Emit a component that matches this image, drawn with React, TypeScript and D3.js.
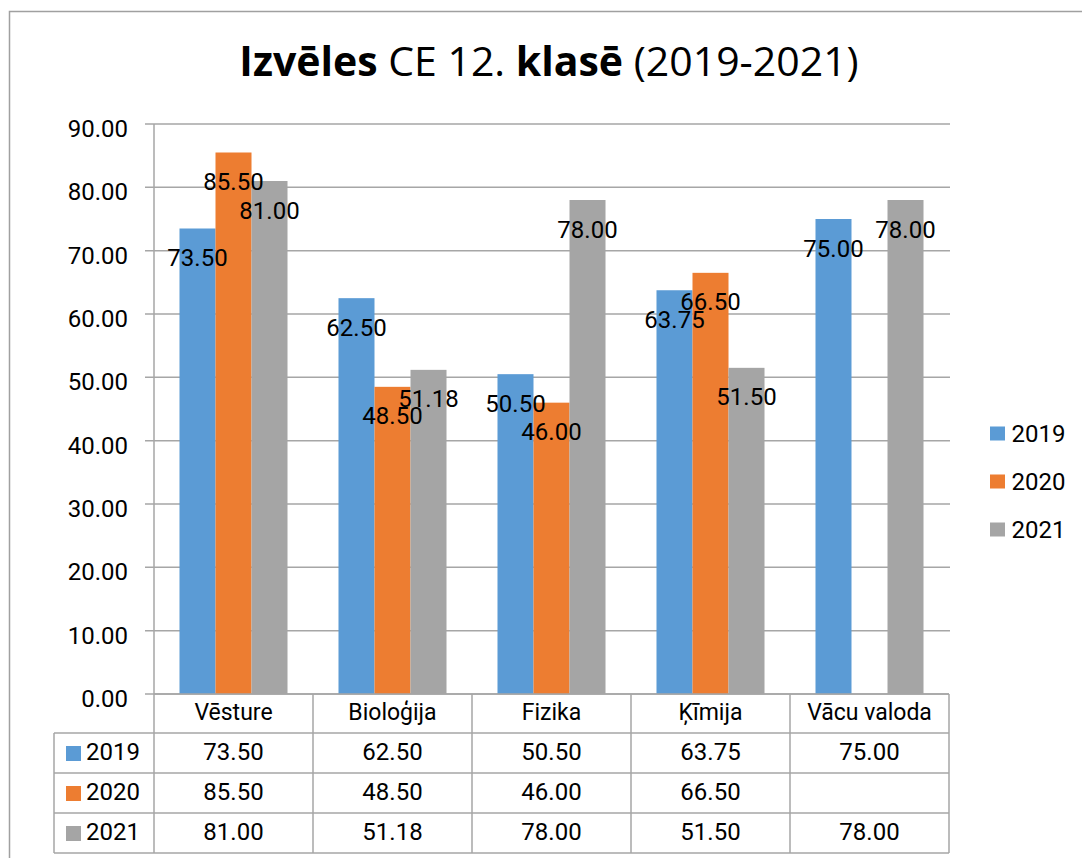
import * as d3 from 'd3';

// kategorijas un sērijas
const categories = ['Vēsture', 'Bioloģija', 'Fizika', 'Ķīmija', 'Vācu valoda'];
const seriesNames = ['2019', '2020', '2021'];
const values2019: (number | null)[] = [73.5, 62.5, 50.5, 63.75, 75.0];
const values2020: (number | null)[] = [85.5, 48.5, 46.0, 66.5, null];
const values2021: (number | null)[] = [81.0, 51.18, 78.0, 51.5, 78.0];
const yTicks = [0, 10, 20, 30, 40, 50, 60, 70, 80, 90];
const colors = ['#5b9bd5', '#ed7d31', '#a5a5a5'];

const W = 1082;
const H = 858;
const FONT = 'Roboto, "Liberation Sans", sans-serif';

export default function App() {
  const series = [values2019, values2020, values2021];

  const plotLeft = 154;
  const plotRight = 949;
  const y = d3.scaleLinear().domain([0, 90]).range([694, 124]);
  const x = d3.scaleBand<string>().domain(categories).range([plotLeft, plotRight]);
  const xs = d3
    .scaleBand<string>()
    .domain(seriesNames)
    .range([0, x.bandwidth()])
    .paddingInner(0)
    .paddingOuter(0.708);

  const rowTop = 733;
  const rowH = 40;
  const tableLeft = 54;
  const fmt = d3.format('.2f');

  return (
    <svg
      width={W}
      height={H}
      style={{ position: 'absolute', left: 0, top: 0, background: '#fff' }}
      fontFamily={FONT}
    >
      {/* ramis */}
      <path d={`M9.5,${H + 2} V11.5 H${W + 2}`} fill="none" stroke="#a0a0a0" strokeWidth={1.5} />

      {/* virsraksts */}
      <text x={549} y={76} textAnchor="middle" fontSize={41} fontFamily='"Open Sans", sans-serif' fill="#000">
        <tspan fontWeight="bold">Izvēles</tspan>
        <tspan> CE 12. </tspan>
        <tspan fontWeight="bold">klasē</tspan>
        <tspan> (2019-2021)</tspan>
      </text>

      {/* režģis un ass */}
      {yTicks.map((t) => (
        <g key={t}>
          <line x1={145} x2={t === 0 ? plotRight : 950} y1={y(t)} y2={y(t)} stroke="#a6a6a6" strokeWidth={1.5} />
          <text x={128} y={y(t) + 13} textAnchor="end" fontSize={24} fill="#000">
            {fmt(t)}
          </text>
        </g>
      ))}
      <line x1={plotLeft} x2={plotLeft} y1={y(90)} y2={rowTop + rowH * 3} stroke="#a6a6a6" strokeWidth={1.5} />

      {/* stabiņi */}
      {categories.map((c, ci) =>
        series.map((vals, si) => {
          const v = vals[ci];
          if (v == null) return null;
          const bx = (x(c) ?? 0) + (xs(seriesNames[si]) ?? 0);
          return (
            <rect
              key={c + si}
              x={bx}
              y={y(v)}
              width={xs.bandwidth()}
              height={y(0) - y(v)}
              fill={colors[si]}
            />
          );
        })
      )}

      {/* datu etiķetes */}
      {categories.map((c, ci) =>
        series.map((vals, si) => {
          const v = vals[ci];
          if (v == null) return null;
          const cx = (x(c) ?? 0) + (xs(seriesNames[si]) ?? 0) + xs.bandwidth() / 2;
          return (
            <text key={'l' + c + si} x={cx} y={y(v) + 37.5} textAnchor="middle" fontSize={24} fill="#000">
              {fmt(v)}
            </text>
          );
        })
      )}

      {/* tabula */}
      {[0, 1, 2, 3].map((r) => (
        <line
          key={'h' + r}
          x1={r === 0 ? plotLeft : tableLeft}
          x2={plotRight}
          y1={r === 0 ? y(0) : rowTop + (r - 1) * rowH}
          y2={r === 0 ? y(0) : rowTop + (r - 1) * rowH}
          stroke="#a6a6a6"
          strokeWidth={1.5}
        />
      ))}
      <line x1={tableLeft} x2={plotRight} y1={rowTop + 3 * rowH} y2={rowTop + 3 * rowH} stroke="#a6a6a6" strokeWidth={1.5} />
      <line x1={tableLeft} x2={tableLeft} y1={rowTop} y2={rowTop + 3 * rowH} stroke="#a6a6a6" strokeWidth={1.5} />
      {categories.map((c) => (
        <line
          key={'v' + c}
          x1={(x(c) ?? 0) + x.bandwidth()}
          x2={(x(c) ?? 0) + x.bandwidth()}
          y1={y(0)}
          y2={rowTop + 3 * rowH}
          stroke="#a6a6a6"
          strokeWidth={1.5}
        />
      ))}
      {categories.map((c) => (
        <text key={'c' + c} x={(x(c) ?? 0) + x.bandwidth() / 2} y={rowTop - 13} textAnchor="middle" fontSize={23} fill="#000">
          {c}
        </text>
      ))}
      {series.map((vals, si) => (
        <g key={'row' + si}>
          <rect x={66} y={rowTop + si * rowH + 13} width={15} height={15} fill={colors[si]} />
          <text x={86} y={rowTop + si * rowH + 27} fontSize={24} fill="#000">
            {seriesNames[si]}
          </text>
          {categories.map((c, ci) =>
            vals[ci] == null ? null : (
              <text
                key={'t' + c}
                x={(x(c) ?? 0) + x.bandwidth() / 2}
                y={rowTop + si * rowH + 27}
                textAnchor="middle"
                fontSize={24}
                fill="#000"
              >
                {fmt(vals[ci] as number)}
              </text>
            )
          )}
        </g>
      ))}

      {/* leģenda */}
      {seriesNames.map((s, si) => (
        <g key={'lg' + s}>
          <rect x={990} y={426.5 + si * 48} width={15} height={14} fill={colors[si]} />
          <text x={1011.5} y={441.5 + si * 48} fontSize={24} fill="#000">
            {s}
          </text>
        </g>
      ))}
    </svg>
  );
}
